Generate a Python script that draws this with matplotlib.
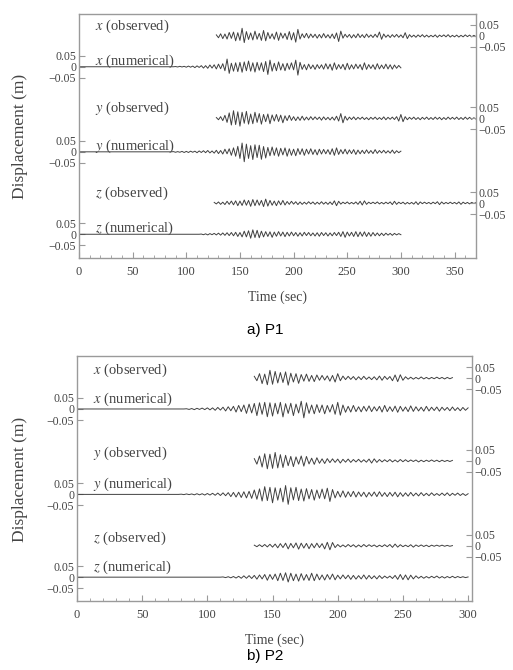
import matplotlib
matplotlib.use('Agg')
import matplotlib.pyplot as plt
import numpy as np

plt.rcParams['font.family'] = ['Liberation Serif', 'DejaVu Serif']
plt.rcParams['mathtext.fontset'] = 'stix'

# sampling step (sec) of the hand-read peak values; displacement in mm
step = 2.0

# ---- P1 ----
p1_x_obs_t0 = 128
p1_x_obs = [5, -8, 10, -12, 9, -14, 16, -11,
            18, -22, 15, -20, 35, -30, 20, -16,
            14, -18, 22, -15, 12, -20, 25, -22, 16, -12,
            10, -15, 18, -20, 14, -10, 12, -16, 20, -18,
            15, -28, 30, -14, 10, -8, 12, -10, 9, -7,
            8, -10, 7, -9, 11, -8, 6, -10, 9, -12,
            14, -25, 22, -10, 8, -6, 7, -9, 6, -8,
            10, -7, 6, -8, 9, -6, 5, -7, 8, -6,
            18, -15, 9, -6, 5, -7, 6, -5, 7, -6,
            5, -8, 15, -12, 6, -5, 4, -6, 5, -4,
            6, -5, 4, -5, 3, -4, 5, -6, 4, -3,
            5, -4, 6, -5, 3, -4, 4, -5, 3, -4,
            5, -3, 4, -4, 3, -3]

p1_x_num_t0 = 0
p1_x_num = [0] * 45 + [
    1, -1, 2, -1, 2, -2, 3, -2, 3, -4,
    4, -3, 5, -6, 5, -7, 8, -6, 9, -10,
    12, -9, 14, -18, 35, -30, 16, -20, 18, -22,
    20, -25, 22, -18, 26, -20, 18, -24, 20, -16,
    18, -22, 24, -35, 30, -20, 16, -18, 22, -15,
    14, -18, 16, -12, 18, -14, 30, -38, 20, -12,
    10, -14, 12, -9, 8, -12, 10, -8, 9, -11,
    14, -10, 12, -16, 18, -12, 10, -9, 11, -14,
    16, -12, 9, -10, 12, -8, 10, -14, 18, -12,
    10, -8, 9, -12, 14, -10, 8, -9, 12, -10,
    9, -11, 8, -7, 6, -5]

p1_y_obs_t0 = 128
p1_y_obs = [4, -6, 8, -10, 14, -18, 25, -30, 35, -28,
            30, -35, 28, -22, 32, -26, 20, -24, 28, -18,
            22, -26, 18, -15, 20, -24, 16, -12, 18, -14,
            15, -20, 12, -10, 14, -9, 8, -10, 7, -9,
            10, -8, 6, -7, 8, -6, 7, -5, 6, -8,
            7, -6, 5, -7, 6, -8, 10, -12, 22, -20,
            10, -8, 6, -5, 7, -6, 5, -4, 6, -5,
            4, -6, 5, -4, 6, -5, 4, -5, 7, -6,
            5, -4, 6, -5, 8, -12, 18, -15, 8, -6,
            5, -4, 6, -5, 4, -6, 5, -4, 6, -5,
            4, -5, 6, -4, 5, -6, 4, -5, 6, -4,
            5, -4, 6, -5, 4, -5, 6, -4, 5, -4, 3, -3]

p1_y_num_t0 = 0
p1_y_num = [0] * 44 + [
    1, -2, 1, -2, 2, -3, 2, -3, 3, -2,
    3, -4, 4, -3, 5, -4, 6, -5, 4, -6,
    7, -8, 6, -10, 12, -9, 14, -16, 18, -20,
    25, -30, 40, -45, 35, -30, 28, -35, 32, -26,
    30, -34, 24, -28, 20, -18, 22, -16, 18, -20,
    16, -14, 18, -20, 14, -16, 12, -18, 15, -12,
    14, -16, 12, -10, 14, -12, 10, -14, 12, -10,
    11, -9, 10, -12, 14, -16, 18, -12, 10, -9,
    12, -10, 9, -8, 10, -12, 8, -9, 7, -8,
    9, -7, 6, -8, 10, -7, 6, -5, 7, -6,
    5, -6, 8, -7, 5, -4, 3]

p1_z_obs_t0 = 126
p1_z_obs = [3, -4, 5, -6, 4, -7, 8, -6, 9, -8,
            10, -12, 9, -11, 14, -10, 12, -15, 16, -12,
            14, -10, 12, -16, 18, -14, 12, -10, 9, -12,
            10, -8, 12, -9, 7, -6, 8, -5, 6, -7,
            5, -6, 4, -5, 6, -4, 5, -6, 4, -5,
            6, -5, 4, -6, 5, -7, 10, -12, 8, -5,
            4, -3, 5, -4, 3, -4, 5, -6, 8, -9,
            10, -6, 4, -3, 4, -3, 5, -4, 3, -4,
            4, -3, 5, -7, 8, -6, 4, -3, 4, -5,
            3, -4, 3, -5, 6, -7, 5, -3, 4, -3,
            3, -4, 4, -3, 6, -7, 5, -4, 3, -3,
            4, -3, 3, -4, 5, -6, 4, -3, 3, -4, 3, -2, 2]

p1_z_num_t0 = 0
p1_z_num = [0] * 57 + [
    1, -2, 2, -3, 3, -2, 4, -3, 5, -4,
    6, -5, 7, -6, 8, -7, 9, -10, 8, -12,
    14, -12, 16, -18, 20, -15, 18, -16, 14, -12,
    12, -10, 11, -14, 10, -9, 12, -8, 10, -11,
    9, -8, 10, -7, 8, -9, 7, -8, 9, -6,
    8, -7, 6, -8, 7, -9, 8, -6, 7, -8,
    6, -7, 8, -6, 9, -10, 12, -14, 10, -8,
    9, -10, 12, -11, 10, -9, 11, -10, 8, -9,
    8, -7, 6, -7, 5, -6, 5, -4, 4, -5,
    4, -3, 3, -2]

# ---- P2 ----
p2_x_obs_t0 = 136
p2_x_obs = [8, -12, 20, -25, 18, -30, 35, -28, 30, -22,
            25, -20, 28, -32, 22, -18, 20, -24, 16, -14,
            18, -15, 12, -16, 14, -10, 12, -9, 10, -14,
            12, -18, 20, -12, 9, -7, 8, -6, 7, -8,
            6, -7, 8, -6, 5, -7, 6, -8, 9, -10,
            8, -6, 7, -12, 14, -16, 15, -10, 6, -5,
            4, -5, 3, -4, 5, -4, 3, -4, 3, -3,
            4, -3, 3, -4, 3, -3, 2]

p2_x_num_t0 = 0
p2_x_num = [0] * 42 + [
    1, -2, 2, -3, 3, -2, 4, -3, 5, -4,
    5, -6, 7, -5, 8, -9, 10, -8, 12, -14,
    16, -12, 18, -20, 22, -18, 25, -30, 28, -24,
    30, -35, 28, -32, 26, -22, 30, -36, 24, -20,
    26, -30, 22, -18, 35, -40, 28, -20, 18, -22,
    20, -16, 18, -22, 16, -14, 20, -24, 30, -28,
    18, -15, 12, -14, 16, -12, 10, -13, 12, -10,
    14, -12, 10, -9, 12, -14, 16, -12, 10, -11,
    13, -15, 12, -10, 9, -12, 14, -11, 10, -9,
    8, -10, 12, -9, 8, -7, 9, -10, 8, -6,
    7, -8, 9, -7, 6, -8, 7, -6, 5]

p2_y_obs_t0 = 136
p2_y_obs = [10, -15, 22, -28, 32, -36, 30, -34, 38, -32,
            28, -30, 25, -22, 20, -26, 18, -15, 22, -24,
            20, -14, 12, -16, 14, -11, 9, -12, 10, -8,
            9, -7, 8, -10, 7, -6, 8, -7, 6, -5,
            7, -6, 5, -6, 8, -10, 9, -7, 6, -5,
            5, -4, 6, -5, 4, -5, 6, -4, 5, -4,
            4, -3, 4, -5, 3, -4, 3, -3, 4, -3,
            3, -4, 3, -3, 2, -3, 2]

p2_y_num_t0 = 0
p2_y_num = [0] * 40 + [
    1, -1, 2, -1, 2, -2, 3, -2, 3, -3,
    4, -3, 5, -4, 6, -5, 7, -6, 8, -10,
    9, -12, 10, -14, 12, -16, 14, -18, 20, -22,
    25, -30, 35, -28, 32, -38, 30, -26, 28, -34,
    40, -45, 30, -25, 32, -28, 24, -30, 26, -20,
    22, -26, 20, -18, 24, -20, 28, -32, 22, -16,
    14, -12, 16, -13, 12, -10, 14, -12, 11, -9,
    10, -12, 9, -8, 11, -10, 12, -9, 8, -10,
    9, -8, 10, -11, 8, -9, 7, -8, 9, -7,
    6, -7, 8, -6, 5, -6, 7, -5, 4, -5,
    6, -5, 7, -6, 5, -4, 6, -5, 4, -5, 3]

p2_z_obs_t0 = 136
p2_z_obs = [3, -4, 5, -4, 6, -5, 7, -6, 8, -9,
            10, -8, 12, -14, 11, -9, 13, -15, 12, -10,
            11, -13, 10, -9, 12, -8, 10, -14, 16, -18,
            15, -8, 6, -5, 4, -5, 6, -4, 5, -6,
            4, -5, 6, -4, 5, -3, 4, -5, 3, -4,
            5, -4, 6, -7, 8, -6, 5, -4, 3, -4,
            5, -6, 4, -3, 4, -3, 3, -4, 3, -2,
            3, -2, 3, -2, 2, -2, 1]

p2_z_num_t0 = 0
p2_z_num = [0] * 56 + [
    1, -2, 2, -3, 3, -4, 4, -5, 6, -5,
    7, -6, 8, -9, 10, -8, 12, -14, 12, -10,
    14, -16, 18, -15, 20, -22, 18, -16, 14, -18,
    16, -14, 12, -15, 18, -16, 14, -12, 10, -13,
    12, -10, 14, -12, 9, -8, 10, -7, 9, -10,
    8, -9, 7, -8, 10, -9, 8, -7, 6, -8,
    7, -6, 5, -4, 5, -6, 8, -10, 12, -11,
    10, -12, 9, -8, 6, -5, 4, -5, 3, -4,
    4, -3, 5, -4, 3, -4, 3, -3, 4, -3,
    3, -2, 2, -2, 1]

# trace labels and vertical offsets (top to bottom)
trace_names = ['x (observed)', 'x (numerical)', 'y (observed)',
               'y (numerical)', 'z (observed)', 'z (numerical)']
trace_offsets = [1.01, 0.87, 0.635, 0.483, 0.25, 0.108]
tick_vals = [0.05, 0, -0.05]
tick_text = ['0.05', '0', '\u22120.05']

frame_c = '#9a9a9a'
text_c = '#444444'
line_c = '#404040'

fig = plt.figure(figsize=(5.13, 6.70), dpi=100)
W, H = 513, 670


def px_axes(left, top, right, bottom):
    return fig.add_axes([left / W, 1 - bottom / H, (right - left) / W, (bottom - top) / H])


def draw_panel(ax, traces, xmax, major_step, lift_obs, lift_num):
    for (t0, vals), off in zip(traces, trace_offsets):
        disp = np.asarray(vals, dtype=float) / 1000.0
        t = t0 + step * np.arange(len(disp))
        ax.plot(t, off + disp, color=line_c, lw=0.7)
    ax.set_xlim(0, xmax)
    ax.set_ylim(0, 1.11)
    for sp in ax.spines.values():
        sp.set_color(frame_c)
        sp.set_linewidth(1.0)
    ax.set_xticks(np.arange(0, xmax + 1, major_step))
    ax.set_xticks(np.arange(0, xmax + 1, 10), minor=True)
    ax.tick_params(axis='x', which='both', direction='in', colors=frame_c,
                   labelcolor=text_c, labelsize=9, top=False, pad=6)
    ax.tick_params(axis='x', which='major', length=4)
    ax.tick_params(axis='x', which='minor', length=2)

    num_offs = trace_offsets[1::2]
    obs_offs = trace_offsets[0::2]
    ax.set_yticks([o + v for o in num_offs for v in tick_vals])
    ax.set_yticklabels(tick_text * len(num_offs))
    ax.tick_params(axis='y', direction='in', length=4, colors=frame_c,
                   labelcolor=text_c, labelsize=8.5, pad=2)
    ax2 = ax.twinx()
    ax2.set_ylim(ax.get_ylim())
    ax2.set_yticks([o + v for o in obs_offs for v in tick_vals])
    ax2.set_yticklabels(tick_text * len(obs_offs))
    ax2.tick_params(axis='y', direction='in', length=4, colors=frame_c,
                    labelcolor=text_c, labelsize=8.5, pad=2)
    for sp in ax2.spines.values():
        sp.set_visible(False)

    for i, (name, off) in enumerate(zip(trace_names, trace_offsets)):
        lift = lift_obs if i % 2 == 0 else lift_num
        comp, rest = name.split(' ', 1)
        ax.text(0.04 * xmax, off + lift, '$' + comp + '$ ' + rest,
                fontsize=10.5, color=text_c, va='center', ha='left')
    ax.set_xlabel('Time (sec)', fontsize=10, color=text_c, labelpad=9)


ax_a = px_axes(79, 14, 476, 258)
draw_panel(ax_a, [(p1_x_obs_t0, p1_x_obs), (p1_x_num_t0, p1_x_num),
                  (p1_y_obs_t0, p1_y_obs), (p1_y_num_t0, p1_y_num),
                  (p1_z_obs_t0, p1_z_obs), (p1_z_num_t0, p1_z_num)],
           370, 50, 0.045, 0.025)

ax_b = px_axes(77, 356, 472, 601)
draw_panel(ax_b, [(p2_x_obs_t0, p2_x_obs), (p2_x_num_t0, p2_x_num),
                  (p2_y_obs_t0, p2_y_obs), (p2_y_num_t0, p2_y_num),
                  (p2_z_obs_t0, p2_z_obs), (p2_z_num_t0, p2_z_num)],
           303, 50, 0.035, 0.045)

fig.text(20 / W, 1 - 136 / H, 'Displacement (m)', rotation=90, ha='center',
         va='center', fontsize=12.5, color=text_c)
fig.text(20 / W, 1 - 479 / H, 'Displacement (m)', rotation=90, ha='center',
         va='center', fontsize=12.5, color=text_c)

fig.text(265 / W, 1 - 330 / H, 'a) P1', ha='center', va='center',
         fontsize=11, family=['Liberation Sans', 'DejaVu Sans'], color='black')
fig.text(265 / W, 1 - 656 / H, 'b) P2', ha='center', va='center',
         fontsize=11, family=['Liberation Sans', 'DejaVu Sans'], color='black')

fig.savefig('out.png', dpi=100)
